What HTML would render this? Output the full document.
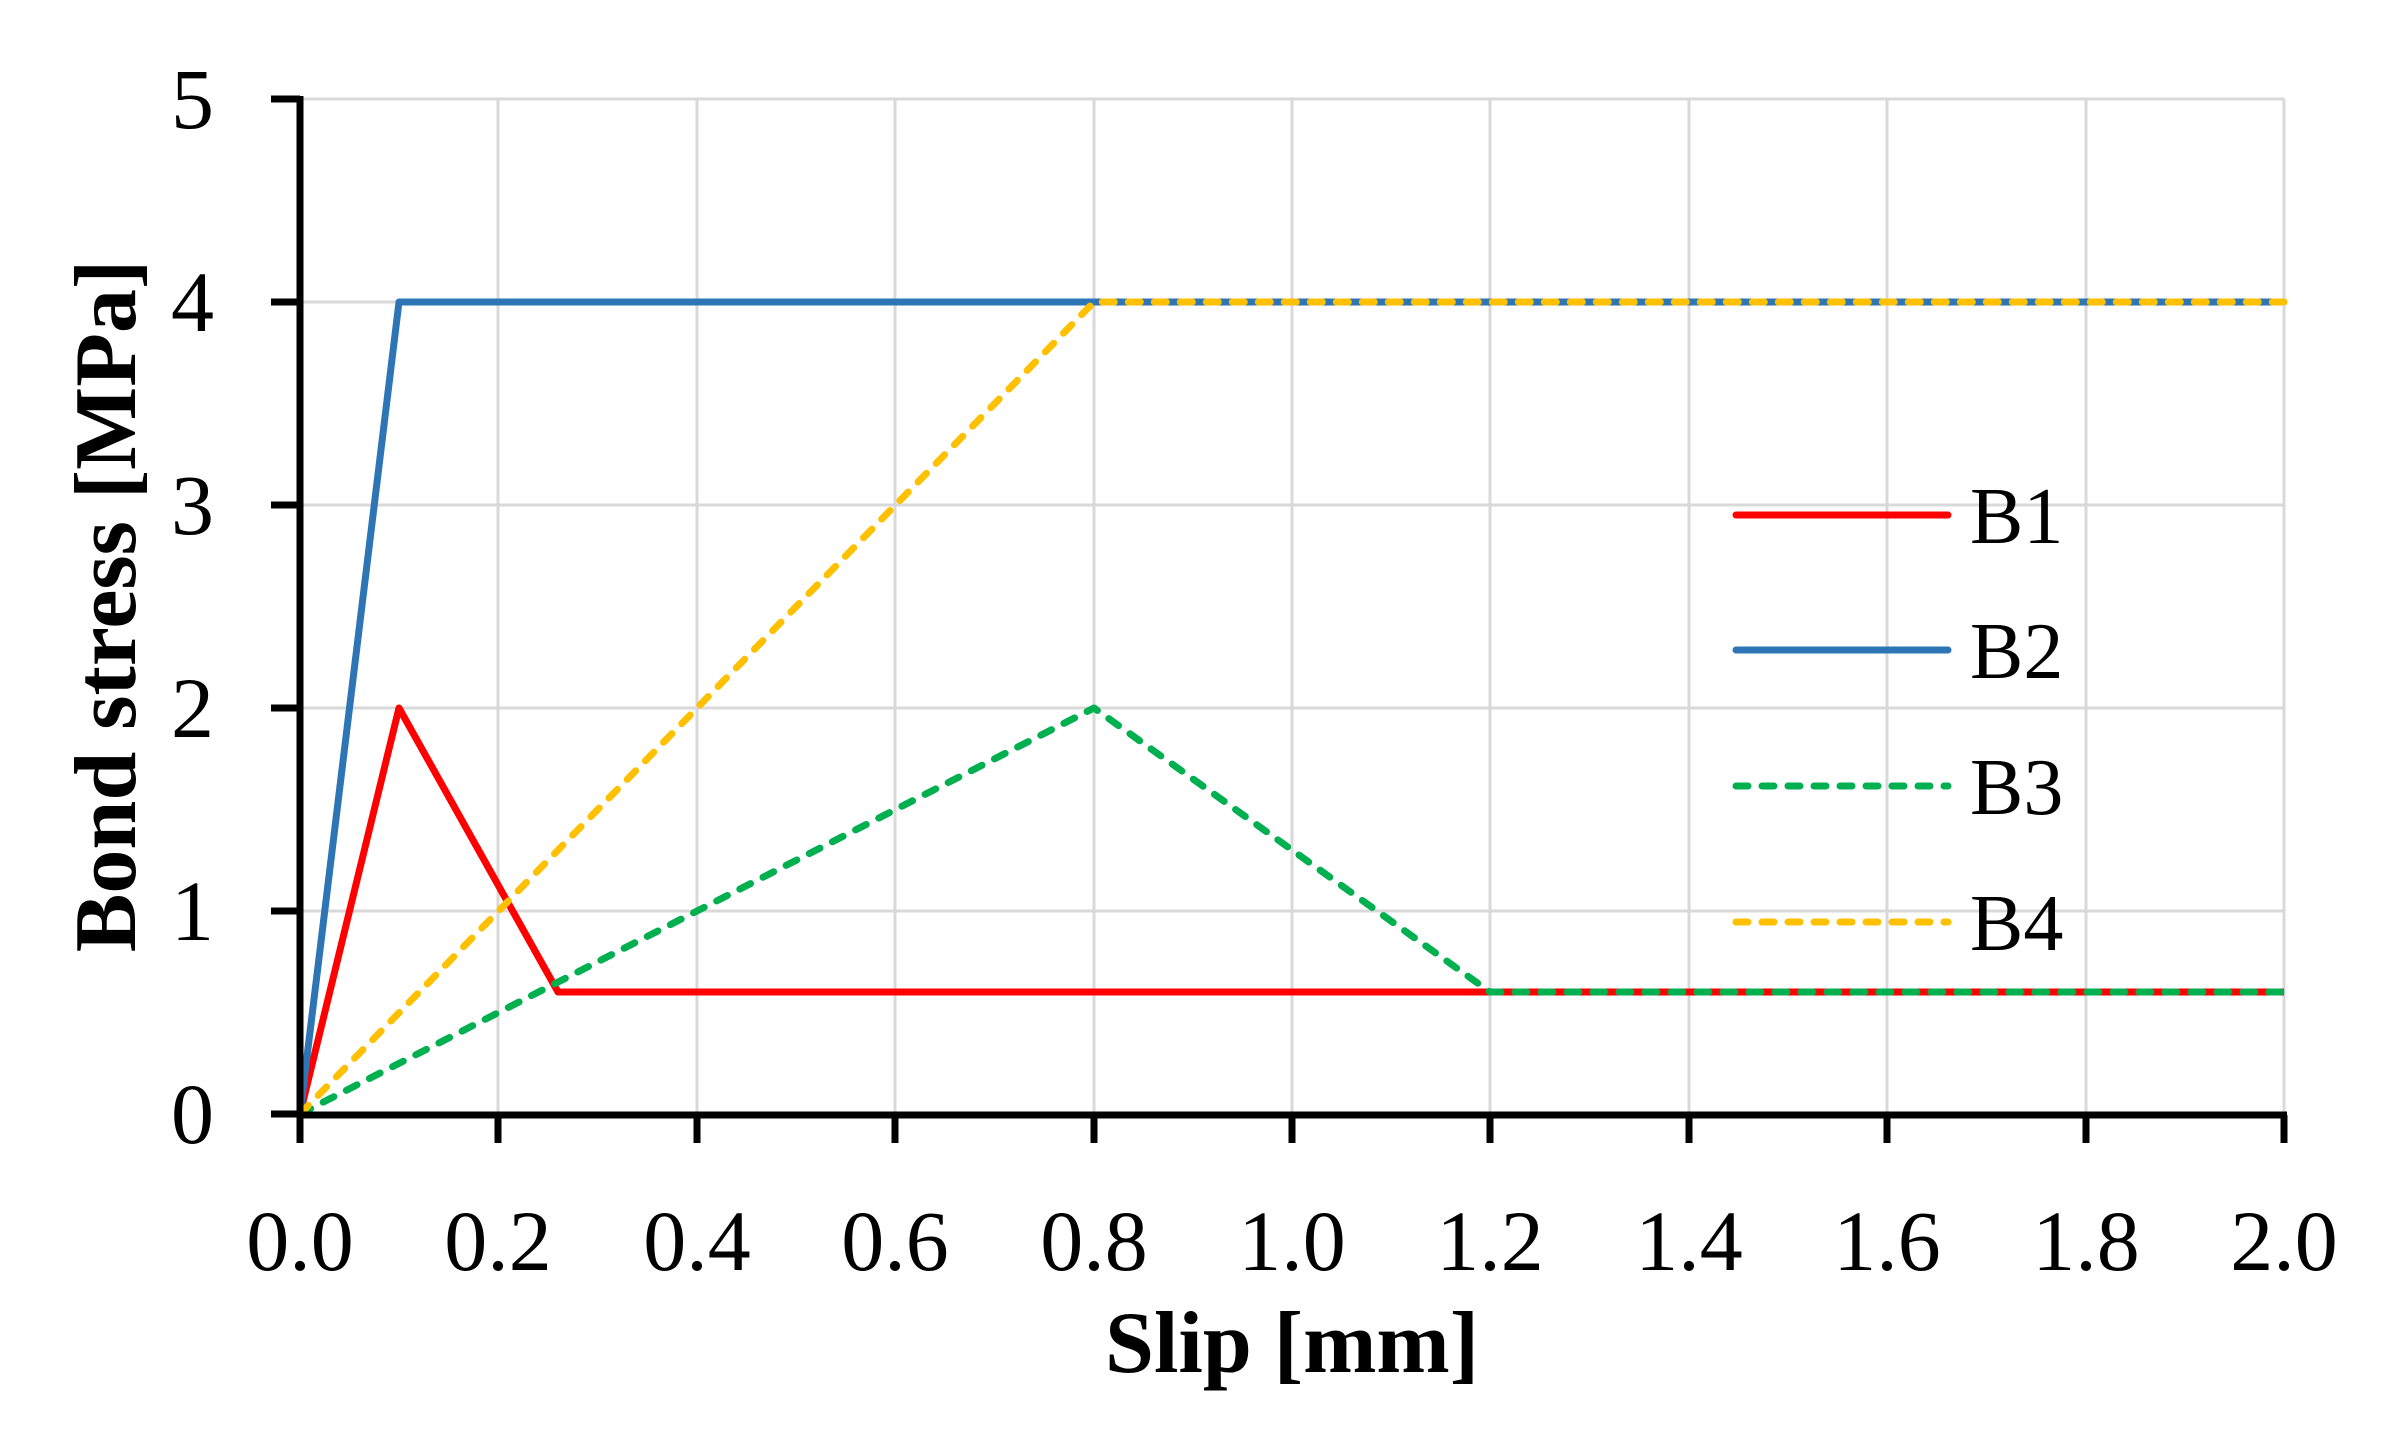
<!DOCTYPE html>
<html><head><meta charset="utf-8"><style>html,body{margin:0;padding:0;background:#fff}</style></head>
<body>
<svg width="2386" height="1426" viewBox="0 0 2386 1426" xmlns="http://www.w3.org/2000/svg" font-family="Liberation Serif, serif">
<g stroke="#d9d9d9" stroke-width="3">
<line x1="300" y1="99" x2="2284" y2="99"/><line x1="300" y1="302" x2="2284" y2="302"/><line x1="300" y1="505" x2="2284" y2="505"/><line x1="300" y1="708" x2="2284" y2="708"/><line x1="300" y1="911" x2="2284" y2="911"/>
<line x1="498" y1="99" x2="498" y2="1114"/><line x1="697" y1="99" x2="697" y2="1114"/><line x1="895" y1="99" x2="895" y2="1114"/><line x1="1094" y1="99" x2="1094" y2="1114"/><line x1="1292" y1="99" x2="1292" y2="1114"/><line x1="1490" y1="99" x2="1490" y2="1114"/><line x1="1689" y1="99" x2="1689" y2="1114"/><line x1="1887" y1="99" x2="1887" y2="1114"/><line x1="2086" y1="99" x2="2086" y2="1114"/><line x1="2284" y1="99" x2="2284" y2="1114"/>
</g>
<g fill="none" stroke-width="7" stroke-linejoin="round">
<polyline stroke="#ff0000" points="300,1114 399,708 558,992 2284,992"/>
<polyline stroke="#2e75b6" points="300,1114 399,302 2284,302"/>
<polyline stroke="#00b050" stroke-dasharray="12 14" stroke-linecap="round" points="300,1114 1094,708 1490,992 2284,992"/>
<polyline stroke="#ffc000" stroke-dasharray="12 14" stroke-linecap="round" points="300,1114 1094,302 2284,302"/>
</g>
<g stroke="#000" stroke-width="7">
<line x1="300" y1="96" x2="300" y2="1118"/><line x1="297" y1="1115" x2="2287" y2="1115"/>
<line x1="271" y1="99" x2="300" y2="99"/><line x1="271" y1="302" x2="300" y2="302"/><line x1="271" y1="505" x2="300" y2="505"/><line x1="271" y1="708" x2="300" y2="708"/><line x1="271" y1="911" x2="300" y2="911"/><line x1="271" y1="1114" x2="300" y2="1114"/>
<line x1="300" y1="1115" x2="300" y2="1143"/><line x1="498" y1="1115" x2="498" y2="1143"/><line x1="697" y1="1115" x2="697" y2="1143"/><line x1="895" y1="1115" x2="895" y2="1143"/><line x1="1094" y1="1115" x2="1094" y2="1143"/><line x1="1292" y1="1115" x2="1292" y2="1143"/><line x1="1490" y1="1115" x2="1490" y2="1143"/><line x1="1689" y1="1115" x2="1689" y2="1143"/><line x1="1887" y1="1115" x2="1887" y2="1143"/><line x1="2086" y1="1115" x2="2086" y2="1143"/><line x1="2284" y1="1115" x2="2284" y2="1143"/>
</g>
<g font-size="86" text-anchor="end" fill="#000">
<text x="214" y="128">5</text><text x="214" y="331">4</text><text x="214" y="534">3</text><text x="214" y="737">2</text><text x="214" y="940">1</text><text x="214" y="1143">0</text>
</g>
<g font-size="86" text-anchor="middle" fill="#000">
<text x="300" y="1270">0.0</text><text x="498" y="1270">0.2</text><text x="697" y="1270">0.4</text><text x="895" y="1270">0.6</text><text x="1094" y="1270">0.8</text><text x="1292" y="1270">1.0</text><text x="1490" y="1270">1.2</text><text x="1689" y="1270">1.4</text><text x="1887" y="1270">1.6</text><text x="2086" y="1270">1.8</text><text x="2284" y="1270">2.0</text>
</g>
<text x="1292" y="1372" font-size="88" font-weight="bold" text-anchor="middle">Slip [mm]</text>
<text transform="translate(135,606) rotate(-90)" font-size="88" font-weight="bold" text-anchor="middle">Bond stress [MPa]</text>
<g stroke-width="7" stroke-linecap="round">
<line x1="1736" y1="515" x2="1948" y2="515" stroke="#ff0000"/>
<line x1="1736" y1="650" x2="1948" y2="650" stroke="#2e75b6"/>
<line x1="1736" y1="786" x2="1948" y2="786" stroke="#00b050" stroke-dasharray="12 14"/>
<line x1="1736" y1="922" x2="1948" y2="922" stroke="#ffc000" stroke-dasharray="12 14"/>
</g>
<g font-size="80" fill="#000">
<text x="1970" y="543">B1</text><text x="1970" y="678">B2</text><text x="1970" y="814">B3</text><text x="1970" y="950">B4</text>
</g>
</svg>
</body></html>
